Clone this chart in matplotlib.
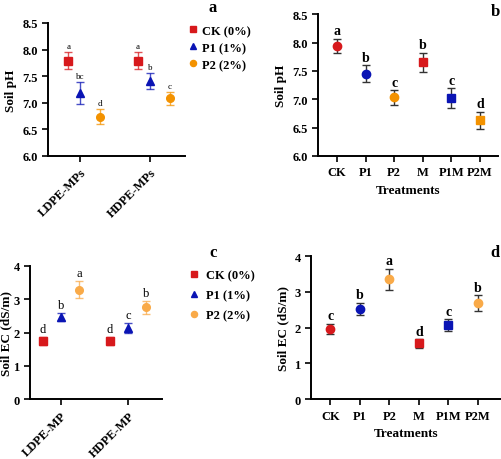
import matplotlib
matplotlib.use("Agg")
import matplotlib.pyplot as plt
import numpy as np

plt.rcParams['font.family'] = ['Liberation Serif', 'DejaVu Serif']
plt.rcParams['font.weight'] = 'bold'
plt.rcParams['axes.labelweight'] = 'bold'

# panel a / c : grouped by polymer type
groups_a = ['LDPE-MPs', 'HDPE-MPs']
groups_c = ['LDPE-MP', 'HDPE-MP']
series = ['CK (0%)', 'P1 (1%)', 'P2 (2%)']

ph_mean = [[7.79, 7.79], [7.18, 7.41], [6.74, 7.08]]
ph_err = [[0.16, 0.16], [0.20, 0.15], [0.15, 0.13]]
ph_let = [['a', 'a'], ['bc', 'b'], ['d', 'c']]

ec_mean = [[1.75, 1.75], [2.46, 2.13], [3.28, 2.75]]
ec_err = [[0.13, 0.13], [0.13, 0.15], [0.26, 0.20]]
ec_let = [['d', 'd'], ['b', 'c'], ['a', 'b']]

# panel b / d : single treatments
treat = ['CK', 'P1', 'P2', 'M', 'P1M', 'P2M']
ph2_mean = [7.94, 7.45, 7.03, 7.65, 7.02, 6.63]
ph2_err = [0.13, 0.15, 0.13, 0.17, 0.17, 0.15]
ph2_let = ['a', 'b', 'c', 'b', 'c', 'd']
ec2_mean = [1.96, 2.53, 3.35, 1.56, 2.08, 2.68]
ec2_err = [0.15, 0.17, 0.30, 0.12, 0.16, 0.22]
ec2_let = ['c', 'b', 'a', 'd', 'c', 'b']

red = '#D7191C'
blue = '#0A14B4'
orange = '#F39200'
orange_lt = '#F9AA48'

fig = plt.figure(figsize=(5.01, 4.60), dpi=100)


def style(ax):
    for s in ['top', 'right']:
        ax.spines[s].set_visible(False)
    for s in ['left', 'bottom']:
        ax.spines[s].set_linewidth(1.4)
    ax.tick_params(width=1.2, length=4, labelsize=9)


def grouped(ax, means, errs, lets, cols, offs, letsize, ylim, yticks, ylabel, xlabels):
    markers = ['s', '^', 'o']
    x = np.arange(2)
    pad = (ylim[1] - ylim[0]) * 0.015
    for i in range(3):
        xi = x + offs[i]
        ax.errorbar(xi, means[i], yerr=errs[i], fmt='none', ecolor=cols[i],
                    alpha=0.75, elinewidth=1.0, capsize=3, capthick=1.0)
        ax.plot(xi, means[i], ls='none', marker=markers[i], color=cols[i],
                ms=5.5, label=series[i])
        for j in range(2):
            ax.text(xi[j], means[i][j] + errs[i][j] + pad, lets[i][j],
                    ha='center', va='bottom', fontsize=letsize, fontweight='normal')
    ax.set_ylim(*ylim)
    ax.set_yticks(yticks)
    ax.set_xlim(-0.46, 1.5)
    ax.set_xticks(x)
    ax.set_xticklabels(xlabels, rotation=45, ha='right', rotation_mode='anchor', fontsize=10)
    ax.set_ylabel(ylabel, fontsize=9.5)
    style(ax)


def single(ax, means, errs, lets, cols, mks, ylim, yticks, ylabel, xlim):
    x = np.arange(len(treat))
    pad = (ylim[1] - ylim[0]) * 0.01
    for k in range(len(treat)):
        ax.errorbar(x[k], means[k], yerr=errs[k], fmt='none', ecolor='#333333',
                    elinewidth=1.0, capsize=3, capthick=1.0)
        ax.plot(x[k], means[k], ls='none', marker=mks[k], color=cols[k], ms=6)
        ax.text(x[k], means[k] + errs[k] + pad, lets[k], ha='center', va='bottom',
                fontsize=10)
    ax.set_ylim(*ylim)
    ax.set_yticks(yticks)
    ax.set_xlim(*xlim)
    ax.set_xticks(x)
    ax.set_xticklabels(treat, fontsize=9)
    ax.set_ylabel(ylabel, fontsize=9.5)
    ax.set_xlabel('Treatments', fontsize=9.5)
    style(ax)


# a
ax1 = fig.add_axes([0.096, 0.659, 0.273, 0.289])
grouped(ax1, ph_mean, ph_err, ph_let, [red, blue, orange], [-0.17, 0.0, 0.28], 6.5,
        (6.0, 8.5), np.arange(6.0, 8.51, 0.5), 'Soil pH', groups_a)
ax1.yaxis.set_major_formatter(matplotlib.ticker.FormatStrFormatter('%.1f'))
ax1.legend(loc='upper left', bbox_to_anchor=(0.95, 1.07), frameon=False, fontsize=9,
           handlelength=0.6, handletextpad=0.4, labelspacing=0.4, markerscale=0.8)

# b
ax2 = fig.add_axes([0.635, 0.659, 0.359, 0.308])
single(ax2, ph2_mean, ph2_err, ph2_let, [red, blue, orange, red, blue, orange],
       ['o', 'o', 'o', 's', 's', 's'], (6.0, 8.5), np.arange(6.0, 8.51, 0.5),
       'Soil pH', (-0.66, 5.63))
ax2.yaxis.set_major_formatter(matplotlib.ticker.FormatStrFormatter('%.1f'))

# c
ax3 = fig.add_axes([0.060, 0.130, 0.263, 0.290])
grouped(ax3, ec_mean, ec_err, ec_let, [red, blue, orange_lt], [-0.27, 0.0, 0.27], 9,
        (0, 4), [0, 1, 2, 3, 4], 'Soil EC (dS/m)', groups_c)
ax3.yaxis.labelpad = 1
ax3.legend(loc='upper left', bbox_to_anchor=(1.13, 1.06), frameon=False, fontsize=9,
           handlelength=0.6, handletextpad=0.7, labelspacing=0.65, markerscale=0.8)

# d
ax4 = fig.add_axes([0.621, 0.130, 0.379, 0.311])
single(ax4, ec2_mean, ec2_err, ec2_let, [red, blue, orange_lt, red, blue, orange_lt],
       ['o', 'o', 'o', 's', 's', 'o'], (0, 4), [0, 1, 2, 3, 4],
       'Soil EC (dS/m)', (-0.65, 5.78))

for lab, px, py in [('a', 0.425, 0.983), ('b', 0.988, 0.974),
                    ('c', 0.425, 0.45), ('d', 0.988, 0.45)]:
    fig.text(px, py, lab, ha='center', va='center', fontsize=12)

fig.savefig('out.png', dpi=100)
